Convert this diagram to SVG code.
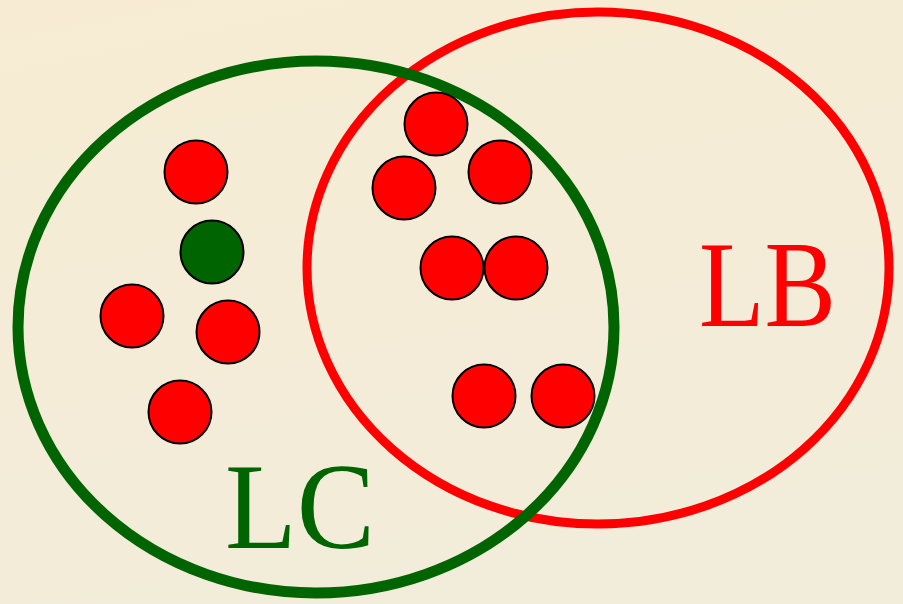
<svg xmlns="http://www.w3.org/2000/svg" width="903" height="604" viewBox="0 0 903 604">
<defs>
<linearGradient id="bg" x1="0" y1="0" x2="0.3" y2="1">
<stop offset="0" stop-color="#f7ecd3"/>
<stop offset="1" stop-color="#f2ecda"/>
</linearGradient>
</defs>
<style>
.dot{fill:#ff0000;stroke:#000;stroke-width:2}
.dotg{fill:#006400;stroke:#000;stroke-width:2}
.lbl{font-family:"Liberation Serif","DejaVu Serif",serif;font-size:122px}
</style>
<rect width="903" height="604" fill="url(#bg)"/>
<g id="setLB">
<ellipse cx="598" cy="268" rx="291" ry="256" fill="none" stroke="#ff0000" stroke-width="9"/>
<text class="lbl" x="699" y="326" fill="#ff0000" textLength="137" lengthAdjust="spacingAndGlyphs">LB</text>
</g>
<g id="setLC">
<ellipse cx="316" cy="327" rx="298" ry="266" fill="none" stroke="#006400" stroke-width="11"/>
<text class="lbl" x="225" y="548" fill="#006400" textLength="150" lengthAdjust="spacingAndGlyphs">LC</text>
</g>
<g id="elements">
<circle class="dot" cx="196" cy="172" r="31.5"/>
<circle class="dotg" cx="212" cy="252" r="31.5"/>
<circle class="dot" cx="132" cy="316" r="31.5"/>
<circle class="dot" cx="228" cy="332" r="31.5"/>
<circle class="dot" cx="180" cy="412" r="31.5"/>
<circle class="dot" cx="436" cy="124" r="31.5"/>
<circle class="dot" cx="404" cy="188" r="31.5"/>
<circle class="dot" cx="500" cy="172" r="31.5"/>
<circle class="dot" cx="452" cy="268" r="31.5"/>
<circle class="dot" cx="516" cy="268" r="31.5"/>
<circle class="dot" cx="484" cy="396" r="31.5"/>
<circle class="dot" cx="563" cy="396" r="31.5"/>
</g>
</svg>
